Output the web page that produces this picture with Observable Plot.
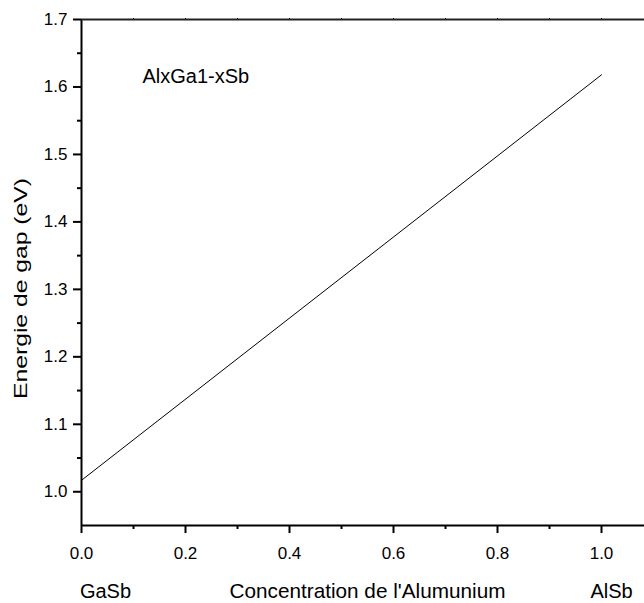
<!DOCTYPE html>
<html>
<head>
<meta charset="utf-8">
<script src="https://cdn.jsdelivr.net/npm/d3@7"></script>
<script src="https://cdn.jsdelivr.net/npm/@observablehq/plot@0.6"></script>
<style>
  html, body { margin: 0; padding: 0; background: #fff; overflow: hidden; width: 644px; height: 603px; }
  #chart svg { max-width: none !important; display: block; }
</style>
</head>
<body>
<div id="chart"></div>
<script>
// Data
const concentration = [0.0, 1.0];
const gapEnergy = [1.017, 1.618];

const xMajorTicks = [0.0, 0.2, 0.4, 0.6, 0.8, 1.0];
const xMinorTicks = [0.1, 0.3, 0.5, 0.7, 0.9];
const xTopTicks = [0.1, 0.2, 0.3, 0.4, 0.5, 0.6, 0.7, 0.8, 0.9, 1.0];
const yMajorTicks = [1.0, 1.1, 1.2, 1.3, 1.4, 1.5, 1.6, 1.7];
const yMinorTicks = [1.05, 1.15, 1.25, 1.35, 1.45, 1.55, 1.65];

const seriesLabel = ["AlxGa1-xSb"];
const xTitle = ["Concentration de l'Alumunium"];
const yTitle = ["Energie de gap (eV)"];
const leftEndLabel = ["GaSb"];
const rightEndLabel = ["AlSb"];

const points = concentration.map((c, i) => ({c, e: gapEnergy[i]}));
const fmt = d => d.toFixed(1);

const chart = Plot.plot({
  width: 660,
  height: 603,
  marginLeft: 81,
  marginRight: 7,
  marginTop: 19,
  marginBottom: 78,
  style: {fontFamily: "'Liberation Sans', Arial, sans-serif", color: "#000", background: "#fff", maxWidth: "none"},
  x: {domain: [0, 1.1], axis: null},
  y: {domain: [0.95, 1.7], axis: null},
  marks: [
    // minor ticks
    Plot.axisX(xMinorTicks, {anchor: "bottom", tickSize: 4, strokeWidth: 2, text: null, label: null}),
    Plot.axisY(yMinorTicks, {anchor: "left", tickSize: 4, strokeWidth: 2, text: null, label: null}),
    Plot.axisX(xTopTicks, {anchor: "top", tickSize: 2, strokeWidth: 1, text: null, label: null}),
    // major ticks with labels
    Plot.axisX(xMajorTicks, {anchor: "bottom", tickSize: 8, tickPadding: 13, strokeWidth: 2, fontSize: 17, tickFormat: fmt, label: null}),
    Plot.axisY(yMajorTicks, {anchor: "left", tickSize: 8, tickPadding: 6, strokeWidth: 2, fontSize: 17, tickFormat: fmt, label: null}),
    // frame lines
    Plot.ruleX([0], {strokeWidth: 2, stroke: "#000"}),
    Plot.ruleY([0.95], {strokeWidth: 2, stroke: "#000"}),
    Plot.ruleY([1.7], {strokeWidth: 2, stroke: "#222"}),
    // data line
    Plot.line(points, {x: "c", y: "e", stroke: "#000", strokeWidth: 1}),
    // annotation
    Plot.text(seriesLabel, {frameAnchor: "top-left", text: d => d, textAnchor: "start", lineAnchor: "middle", dx: 61, dy: 57, fontSize: 20}),
    // axis titles
    Plot.text(xTitle, {frameAnchor: "bottom", text: d => d, textAnchor: "middle", lineAnchor: "middle", dx: 0, dy: 66, fontSize: 21}),
    Plot.text(yTitle, {frameAnchor: "left", text: d => d, rotate: -90, textAnchor: "middle", lineAnchor: "middle", dx: -60, dy: 16, fontSize: 18}),
    Plot.text(leftEndLabel, {x: 0, frameAnchor: "bottom", text: d => d, textAnchor: "middle", lineAnchor: "middle", dx: 24, dy: 66, fontSize: 20}),
    Plot.text(rightEndLabel, {x: 1.0, frameAnchor: "bottom", text: d => d, textAnchor: "middle", lineAnchor: "middle", dx: 10, dy: 66, fontSize: 20})
  ]
});

// match the stretched titles of the reference
const stretch = {[yTitle[0]]: 221, [xTitle[0]]: 276};
chart.querySelectorAll("text").forEach(t => {
  const len = stretch[t.textContent];
  if (len) {
    t.setAttribute("textLength", len);
    t.setAttribute("lengthAdjust", "spacingAndGlyphs");
  }
});

document.getElementById("chart").appendChild(chart);
</script>
</body>
</html>
